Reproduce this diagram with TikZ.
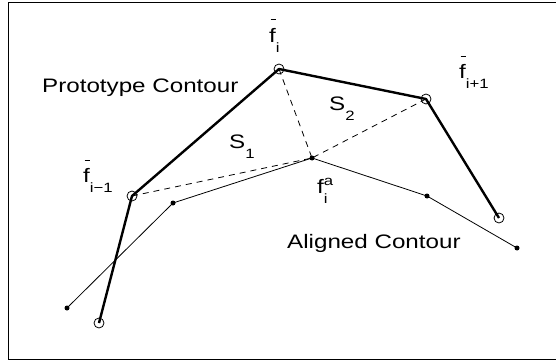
\documentclass[tikz,border=0pt]{standalone}
\usepackage{fontspec}
\setmainfont{Liberation Sans}
\usepackage{graphicx}
\usetikzlibrary{positioning}
\definecolor{ink}{HTML}{000000}
\tikzset{
  proto/.style={circle,draw=ink,line width=.8pt,minimum size=10pt,inner sep=0pt},
  alignpt/.style={circle,fill=ink,minimum size=5pt,inner sep=0pt},
  protoline/.style={line width=2.4pt,color=ink,line join=round},
  alignline/.style={line width=.8pt,color=ink},
  arealine/.style={dash pattern=on 6pt off 5pt,line width=.8pt,color=ink},
  frame/.style={draw=ink,line width=1.6pt},
  lbl/.style={inner sep=0pt,anchor=base west,font=\fontsize{19.5}{22}\selectfont},
}
\newcommand{\wide}[1]{\scalebox{1.24}[1]{#1}}
\newcommand{\lowtxt}[1]{\raisebox{-10pt}{\fontsize{13.5}{14}\selectfont #1}}
\newcommand{\hightxt}[1]{\raisebox{8pt}{\fontsize{13.5}{14}\selectfont #1}}
\newcommand{\fbar}{\rlap{\hspace{1.2pt}\rule[21.5pt]{4.6pt}{1pt}}f}

\begin{document}
\begin{tikzpicture}[x=1pt,y=1pt]
  \clip (0,0) rectangle (556,-361);
  \draw[frame] (8.5,-2.5) rectangle (570,-359.5);

  % prototype contour (circles)
  \node[proto] (p1) at (99,-323) {};
  \node[proto] (p2) at (132,-196) {};
  \node[proto] (p3) at (279,-69) {};
  \node[proto] (p4) at (426,-99) {};
  \node[proto] (p5) at (499,-218) {};
  % aligned contour (dots)
  \node[alignpt] (a1) at (67,-308) {};
  \node[alignpt] (a2) at (173,-203) {};
  \node[alignpt] (a3) at (312,-158) {};
  \node[alignpt] (a4) at (427,-196) {};
  \node[alignpt] (a5) at (517,-248) {};

  \draw[arealine] (p2.center) -- (a3.center);
  \draw[arealine] (p3.center) -- (a3.center);
  \draw[arealine] (p4.center) -- (a3.center);
  \draw[protoline] (p1.center) -- (p2.center) -- (p3.center) -- (p4.center) -- (p5.center);
  \draw[alignline] (a1.center) -- (a2.center) -- (a3.center) -- (a4.center) -- (a5.center);

  % labels
  \node[lbl] (protolbl) at (42,-92) {\wide{Prototype Contour}};
  \node[lbl] (alignlbl) at (287,-248) {\wide{Aligned Contour}};
  \node[lbl] (fi) at (269,-42) {\wide{\fbar\lowtxt{i}}};
  \node[lbl] (fnext) at (459,-78) {\wide{\fbar\lowtxt{i+1}}};
  \node[lbl] (fprev) at (83,-182) {\wide{\fbar\lowtxt{i−1}}};
  \node[lbl] (fa) at (317,-193) {\wide{f\rlap{\lowtxt{i}}\hightxt{a}}};
  \node[lbl] (s1) at (229,-148) {\wide{S\lowtxt{1}}};
  \node[lbl] (s2) at (329,-110) {\wide{S\lowtxt{2}}};
\end{tikzpicture}
\end{document}
